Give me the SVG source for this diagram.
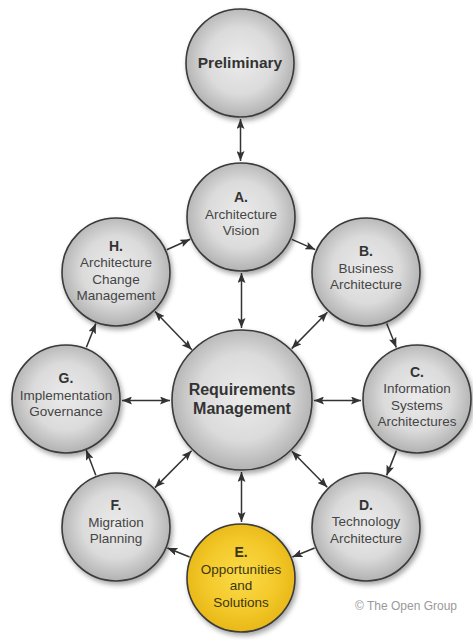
<svg xmlns="http://www.w3.org/2000/svg" width="473" height="640" viewBox="0 0 473 640">
<defs>
<radialGradient id="gGray" cx="50%" cy="48%" r="52%">
<stop offset="0%" stop-color="#ebebeb"/>
<stop offset="60%" stop-color="#dbdbdb"/>
<stop offset="100%" stop-color="#b2b2b2"/>
</radialGradient>
<radialGradient id="gYellow" cx="50%" cy="48%" r="52%">
<stop offset="0%" stop-color="#f9da48"/>
<stop offset="60%" stop-color="#f4ca2c"/>
<stop offset="100%" stop-color="#e8b818"/>
</radialGradient>
<filter id="sh" x="-20%" y="-20%" width="150%" height="150%">
<feDropShadow dx="2" dy="3" stdDeviation="2.5" flood-color="#000" flood-opacity="0.35"/>
</filter>
<marker id="ah" viewBox="0 0 10 8" refX="10" refY="4" markerWidth="10" markerHeight="8" markerUnits="userSpaceOnUse" orient="auto-start-reverse">
<path d="M0,0 L10,4 L0,8 L2,4 z" fill="#333"/>
</marker>
<style>
.n{fill:url(#gGray);stroke:#3a3a3a;stroke-width:1.6;filter:url(#sh)}
.y{fill:url(#gYellow);stroke:#3a3a3a;stroke-width:1.6;filter:url(#sh)}
text{font-family:"Liberation Sans",Arial,sans-serif;text-anchor:middle}
.b{font-weight:bold;font-size:14px;fill:#333}
.t{font-size:13.5px;fill:#454545}
.ye{fill:#3d3612}
.big{font-weight:bold;font-size:16px;fill:#333}
.c{stroke:#333;stroke-width:1.5;fill:none;marker-end:url(#ah)}
.d{stroke:#333;stroke-width:1.5;fill:none;marker-end:url(#ah);marker-start:url(#ah)}
.cp{font-size:12px;fill:#9a9a9a;text-anchor:start}
</style>
</defs>
<rect width="473" height="640" fill="#ffffff"/>

<g id="connectors">
<line class="d" x1="240.5" y1="119" x2="240.5" y2="161"/>
<line class="c" x1="291.8" y1="239.4" x2="315.2" y2="249.6"/>
<line class="c" x1="386.7" y1="323.5" x2="396.3" y2="347.5"/>
<line class="c" x1="396.4" y1="450.6" x2="386.6" y2="475.4"/>
<line class="c" x1="314.6" y1="548" x2="292.4" y2="557"/>
<line class="c" x1="189.6" y1="557" x2="167.4" y2="548"/>
<line class="c" x1="95.8" y1="475.3" x2="86.2" y2="450.1"/>
<line class="c" x1="86.4" y1="347.3" x2="95.8" y2="323.6"/>
<line class="c" x1="166.8" y1="249.7" x2="190.2" y2="239.3"/>
<line class="d" x1="241.5" y1="273" x2="241.5" y2="328"/>
<line class="d" x1="291.7" y1="348.6" x2="327.4" y2="312.3"/>
<line class="d" x1="314" y1="400.5" x2="361" y2="400.5"/>
<line class="d" x1="291.9" y1="451.2" x2="327.3" y2="487.3"/>
<line class="d" x1="241.5" y1="472" x2="241.5" y2="522"/>
<line class="d" x1="191.6" y1="450.8" x2="155" y2="487.6"/>
<line class="d" x1="170" y1="400.5" x2="122" y2="400.5"/>
<line class="d" x1="191.8" y1="349.8" x2="155" y2="311.6"/>
</g>

<g id="preliminary">
<circle class="n" cx="240" cy="63" r="54"/>
<text class="big" x="240" y="68" style="font-size:15.5px">Preliminary</text>
</g>

<g id="nodeA">
<circle class="n" cx="241" cy="217" r="54"/>
<text class="b" x="241" y="202">A.</text>
<text class="t" x="241" y="218.5">Architecture</text>
<text class="t" x="241" y="235">Vision</text>
</g>

<g id="nodeB">
<circle class="n" cx="366" cy="272" r="54"/>
<text class="b" x="366" y="256">B.</text>
<text class="t" x="366" y="272.5">Business</text>
<text class="t" x="366" y="289">Architecture</text>
</g>

<g id="nodeC">
<circle class="n" cx="417" cy="399" r="54"/>
<text class="b" x="417" y="376.5">C.</text>
<text class="t" x="417" y="393">Information</text>
<text class="t" x="417" y="409.5">Systems</text>
<text class="t" x="417" y="426">Architectures</text>
</g>

<g id="nodeD">
<circle class="n" cx="366" cy="527" r="54"/>
<text class="b" x="366" y="509.5">D.</text>
<text class="t" x="366" y="526">Technology</text>
<text class="t" x="366" y="542.5">Architecture</text>
</g>

<g id="nodeE">
<circle class="y" cx="241" cy="578" r="54"/>
<text class="b ye" x="241" y="557">E.</text>
<text class="t ye" x="241" y="573.5">Opportunities</text>
<text class="t ye" x="241" y="590">and</text>
<text class="t ye" x="241" y="606.5">Solutions</text>
</g>

<g id="nodeF">
<circle class="n" cx="116" cy="527" r="54"/>
<text class="b" x="116" y="510">F.</text>
<text class="t" x="116" y="526.5">Migration</text>
<text class="t" x="116" y="543">Planning</text>
</g>

<g id="nodeG">
<circle class="n" cx="66" cy="399" r="54"/>
<text class="b" x="66" y="383">G.</text>
<text class="t" x="66" y="399.5">Implementation</text>
<text class="t" x="66" y="416">Governance</text>
</g>

<g id="nodeH">
<circle class="n" cx="116" cy="272" r="54"/>
<text class="b" x="116" y="250.5">H.</text>
<text class="t" x="116" y="267">Architecture</text>
<text class="t" x="116" y="283.5">Change</text>
<text class="t" x="116" y="300">Management</text>
</g>

<g id="requirements">
<circle class="n" cx="242" cy="400" r="70"/>
<text class="big" x="242" y="395">Requirements</text>
<text class="big" x="242" y="414">Management</text>
</g>

<text class="cp" x="355" y="610">© The Open Group</text>
</svg>
